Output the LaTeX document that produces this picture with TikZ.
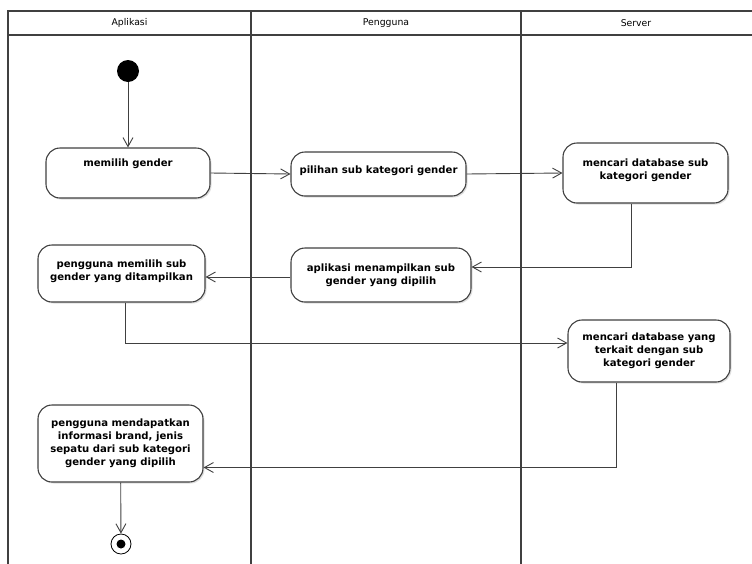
\documentclass[tikz,border=0pt]{standalone}
\usepackage{fontspec}
\setmainfont{DejaVu Sans}
\usetikzlibrary{arrows.meta,shadows}

\begin{document}
\begin{tikzpicture}[x=1pt,y=-1pt,
  act/.style={draw=black!75,line width=1.1pt,rounded corners=14pt,fill=white,
    font=\bfseries\fontsize{10.1}{13}\selectfont,align=center,inner sep=1pt,
    drop shadow={shadow xshift=1.5pt,shadow yshift=-1.5pt,opacity=0.25}},
  flow/.style={draw=black!75,line width=0.9pt,-{Straight Barb[length=9pt,width=10pt]}},
  lane/.style={draw=black!75,line width=1.1pt},
  lanetitle/.style={font=\fontsize{9.3}{11}\selectfont}]

\useasboundingbox (0,0) rectangle (752,563);

% 画泳道
\draw[lane] (8,570) -- (8,11) -- (760,11);
\draw[lane] (8,35) -- (760,35);
\draw[lane] (251,11) -- (251,570);
\draw[lane] (521,11) -- (521,570);
\node[lanetitle] (tApp) at (129.5,23) {Aplikasi};
\node[lanetitle] (tUser) at (386,23) {Pengguna};
\node[lanetitle] (tSrv) at (636,23) {Server};

% 画活动
\node[circle,fill=black,minimum size=22pt,inner sep=0pt] (start) at (128,71) {};
\node[act,minimum width=164pt,minimum height=50pt,text depth=20pt] (pilih) at (128,173) {memilih gender};
\node[act,minimum width=175pt,minimum height=44pt,text depth=8pt] (pilihan) at (378.5,174) {pilihan sub kategori gender};
\node[act,minimum width=165pt,minimum height=60pt,text depth=8pt] (cari1) at (645.5,173) {mencari database sub\\kategori gender};
\node[act,minimum width=180pt,minimum height=54pt] (tampil) at (381,275) {aplikasi menampilkan sub\\gender yang dipilih};
\node[act,minimum width=167pt,minimum height=57pt,text depth=6pt] (milihsub) at (121.5,273.5) {pengguna memilih sub\\gender yang ditampilkan};
\node[act,minimum width=162pt,minimum height=62pt] (cari2) at (649,351) {mencari database yang\\terkait dengan sub\\kategori gender};
\node[act,minimum width=165pt,minimum height=77pt] (dapat) at (120.5,443.5) {pengguna mendapatkan\\informasi brand, jenis\\sepatu dari sub kategori\\gender yang dipilih};
\node[circle,draw=black,line width=0.8pt,fill=white,minimum size=20pt,inner sep=0pt] (end) at (121,544) {};
\fill (end) circle (4.5pt);

% 画连线
\draw[flow] (start) -- (pilih);
\draw[flow] (pilih.east) -- (pilihan.west);
\draw[flow] (pilihan.east) -- (cari1.west);
\draw[flow] ([xshift=-14pt]cari1.south) |- ([yshift=8pt]tampil.east);
\draw[flow] ([yshift=-2pt]tampil.west) -- ([yshift=-2pt]tampil.west -| milihsub.east);
\draw[flow] ([xshift=4pt]milihsub.south) |- ([yshift=8pt]cari2.west);
\draw[flow] ([xshift=-33pt]cari2.south) |- ([yshift=-24pt]dapat.east);
\draw[flow] (dapat) -- (end);

\end{tikzpicture}
\end{document}
